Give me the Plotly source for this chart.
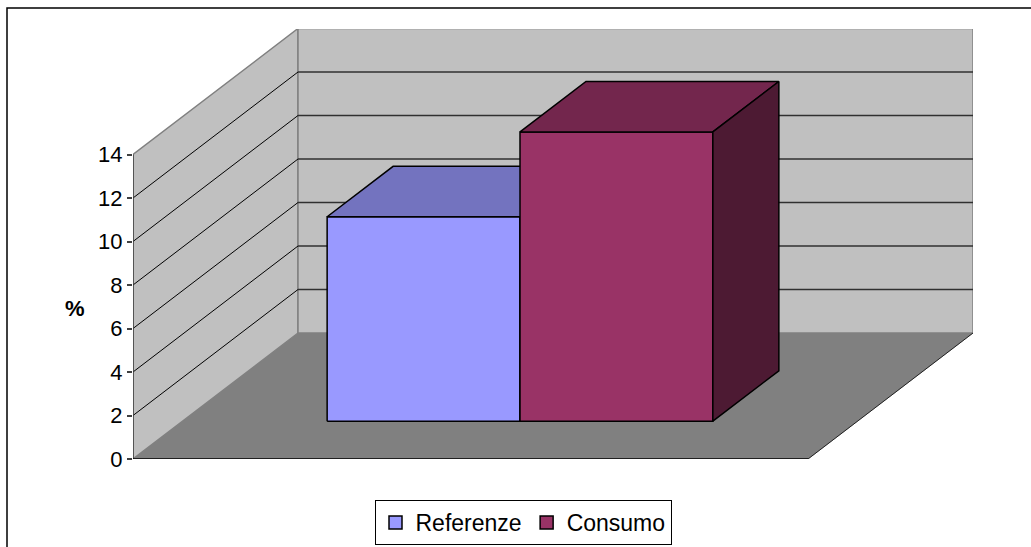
import plotly.graph_objects as go

# ---- data ----
series_names = ["Referenze", "Consumo"]
series_values = [9.4, 13.3]
front_colors = ["#9999FF", "#993366"]
top_colors = ["#7373BF", "#73264D"]
side_colors = ["#4D4D80", "#4D1A33"]
tick_values = [0, 2, 4, 6, 8, 10, 12, 14]
axis_title = "%"

# ---- figure geometry (pixels) ----
FIG_W, FIG_H = 1031, 547
M_L, M_R, M_T, M_B = 133, 58, 29, 88
PLOT_W = FIG_W - M_L - M_R
PLOT_H = FIG_H - M_T - M_B
S = 21.75                      # pixels per value unit (both directions)
VMAX = 14                      # top of the walls
DX, DY = 165 / S, 126 / S      # oblique depth offset of the full depth
W = 675 / S                    # front width of the floor
GAP = 1.5                      # gap width as fraction of a bar
BAR_W = W / (len(series_values) + GAP)
D0, D1 = 0.3, 0.7              # bar depth span as fraction of full depth


def P(x, v, d):
    """Oblique projection of (front x, value, depth fraction)."""
    return x + d * DX, v + d * DY


def poly(points, fill, line_color, line_width, name=None):
    xs = [p[0] for p in points] + [points[0][0]]
    ys = [p[1] for p in points] + [points[0][1]]
    return go.Scatter(
        x=xs, y=ys, mode="lines", fill="toself", fillcolor=fill,
        line=dict(color=line_color, width=line_width),
        hoverinfo="skip", showlegend=False, name=name or "",
    )


def seg(p0, p1, color, width):
    return go.Scatter(
        x=[p0[0], p1[0]], y=[p0[1], p1[1]], mode="lines",
        line=dict(color=color, width=width),
        hoverinfo="skip", showlegend=False,
    )


fig = go.Figure()

# floor
fig.add_trace(poly([P(0, 0, 0), P(W, 0, 0), P(W, 0, 1), P(0, 0, 1)],
                   "#808080", "#808080", 0.5))
# side wall
fig.add_trace(poly([P(0, 0, 0), P(0, VMAX, 0), P(0, VMAX, 1), P(0, 0, 1)],
                   "#C0C0C0", "#808080", 1.5))
# back wall
fig.add_trace(poly([P(0, 0, 1), P(0, VMAX, 1), P(W, VMAX, 1), P(W, 0, 1)],
                   "#C0C0C0", "#808080", 1.5))

# gridlines on side and back walls
for v in tick_values[1:-1]:
    fig.add_trace(seg(P(0, v, 0), P(0, v, 1), "#000000", 1))
    fig.add_trace(seg(P(0, v, 1), P(W, v, 1), "#303030", 1.5))

# value axis line and category axis lines
fig.add_trace(seg(P(0, 0, 0), P(0, VMAX, 0), "#404040", 1.5))
fig.add_trace(seg(P(0, 0, 0), P(W, 0, 0), "#000000", 1.5))
fig.add_trace(seg(P(W, 0, 0), P(W, 0, 1), "#202020", 1))
for xe in (0, W):
    fig.add_trace(seg((xe, 0), (xe, -5 / S), "#808080", 1.5))

# 3D bars
x_start = W / 2 - BAR_W * len(series_values) / 2
for i, (name, val) in enumerate(zip(series_names, series_values)):
    x0 = x_start + i * BAR_W
    x1 = x0 + BAR_W
    fig.add_trace(poly([P(x0, 0, D0), P(x0, val, D0), P(x1, val, D0), P(x1, 0, D0)],
                       front_colors[i], "#000000", 1.5, name))
    fig.add_trace(poly([P(x0, val, D0), P(x0, val, D1), P(x1, val, D1), P(x1, val, D0)],
                       top_colors[i], "#000000", 1.5, name))
    fig.add_trace(poly([P(x1, 0, D0), P(x1, val, D0), P(x1, val, D1), P(x1, 0, D1)],
                       side_colors[i], "#000000", 1.5, name))

# legend entries
for i, name in enumerate(series_names):
    fig.add_trace(go.Scatter(
        x=[None], y=[None], mode="markers", name=name,
        marker=dict(symbol="square", size=13, color=front_colors[i],
                    line=dict(color="#000000", width=1.5)),
        showlegend=True,
    ))

FONT = "Arial, Liberation Sans, sans-serif"


def px_x(px):
    return (px - M_L) / PLOT_W


def px_y(py):
    return (FIG_H - M_B - py) / PLOT_H


fig.update_layout(
    width=FIG_W, height=FIG_H,
    margin=dict(l=M_L, r=M_R, t=M_T, b=M_B, pad=0, autoexpand=False),
    paper_bgcolor="white", plot_bgcolor="white",
    font=dict(family=FONT, color="#000000"),
    xaxis=dict(range=[0, PLOT_W / S], visible=False, fixedrange=True),
    yaxis=dict(range=[0, PLOT_H / S], tickvals=tick_values,
               ticks="outside", ticklen=5, tickwidth=1.5, tickcolor="#404040",
               tickfont=dict(size=22, family=FONT, color="#000000"),
               showgrid=False, zeroline=False, showline=False, fixedrange=True),
    showlegend=True,
    legend=dict(
        orientation="h", x=px_x(523), xanchor="center", y=px_y(500), yanchor="top",
        bordercolor="#000000", borderwidth=1, bgcolor="white",
        font=dict(size=23, family=FONT, color="#000000"),
        itemsizing="trace", tracegroupgap=0,
    ),
    annotations=[dict(
        text="<b>" + axis_title + "</b>", x=px_x(75), y=px_y(308),
        xref="paper", yref="paper", xanchor="center", yanchor="middle",
        showarrow=False,
        font=dict(size=22, family=FONT, color="#000000"),
    )],
    shapes=[dict(
        type="rect", xref="paper", yref="paper",
        x0=px_x(7), y0=px_y(FIG_H + 20), x1=px_x(FIG_W + 20), y1=px_y(8),
        line=dict(color="#000000", width=1.5), fillcolor="rgba(0,0,0,0)",
        layer="below",
    )],
)

fig.write_html("out.html")
